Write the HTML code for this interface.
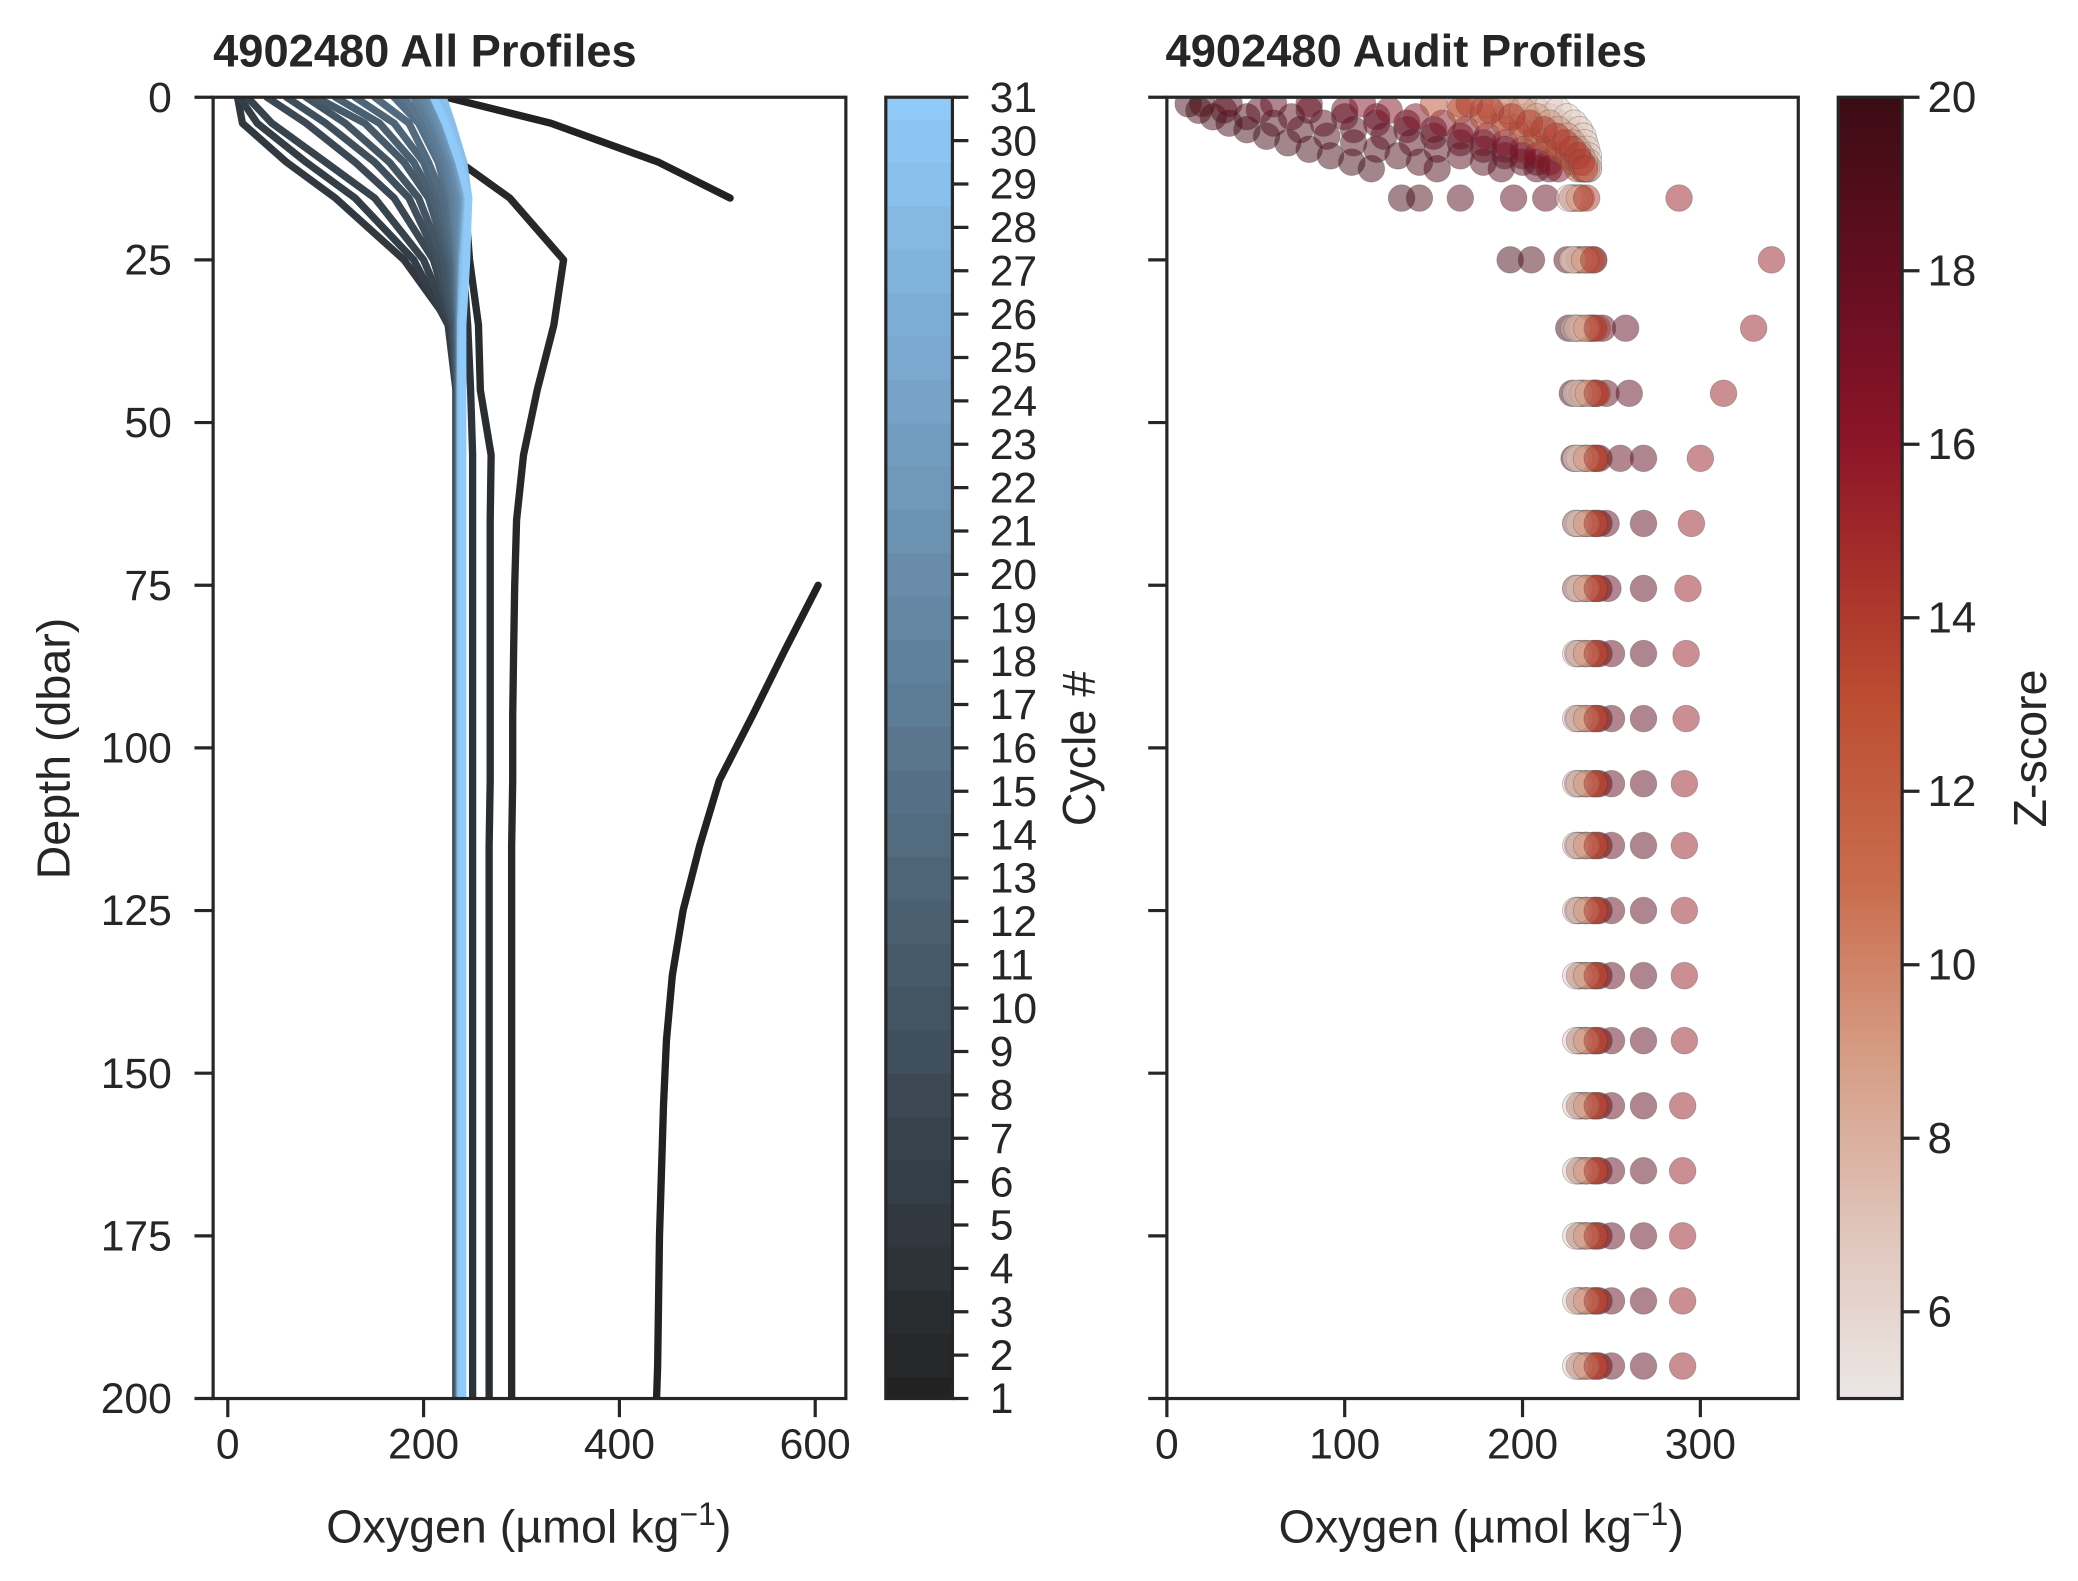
<!DOCTYPE html>
<html><head><meta charset="utf-8"><style>
html,body{margin:0;padding:0;background:#fff;}
svg{display:block;font-family:"Liberation Sans",Arial,sans-serif;}
</style></head><body>
<svg id="chart" width="2078" height="1581" viewBox="0 0 1560 1187" preserveAspectRatio="none" xmlns="http://www.w3.org/2000/svg">
<rect width="1560" height="1187" fill="#fff"/>
<defs><clipPath id="clipL"><rect x="160" y="73" width="475" height="977"/></clipPath>
<clipPath id="clipR"><rect x="876" y="73" width="474" height="977"/></clipPath></defs>
<g id="lines" clip-path="url(#clipL)"></g>
<g id="dots" clip-path="url(#clipR)"></g>
<g id="axes"></g>
</svg>
<script>
// ---- data: left panel (all profiles) ----
const lineDepths=[0,4,10,15.5,25,35,45,55,65,75,85,95,105,115,125,135,145,155,165,175,185,195,200];
const cycle1=[223,330,440,513,null,null,null,null,null,603,569,536,502,482,465,454,448,445,443,441,440,439,438];
const cycle2=[215,225,237,288,343,333,316,302,295,293,292,291,291,290,290,290,290,290,290,290,290,290,290];
const cycle3=[205,215,230,242,247,256,258,269,268,268,268,268,268,267,267,267,267,267,267,267,267,267,267];
const cycle4=[195,205,225,238,240,245,248,250,250,250,250,250,250,250,250,250,250,250,250,250,250,250,250];
// cycles 5-31: values at depths 0,4,10,15.5,25,35 then a deep value for 45-200
const shallow=[
[10,15,60,110,180,228],[12,30,80,130,190,225],[20,45,100,150,200,228],[40,80,130,170,210,230],
[60,100,150,185,215,230],[80,120,165,195,220,232],[90,140,180,205,225,233],[110,155,190,210,228,234],
[130,170,200,215,230,235],[150,185,205,220,232,235],[170,195,215,225,233,236],[180,200,218,228,234,236],
[190,205,222,230,235,236],[195,210,225,232,236,237],[200,212,228,235,237,237],[205,215,230,238,238,237],
[208,218,232,240,238,237],[210,220,233,241,239,238],[212,222,234,242,239,238],[214,224,236,243,240,238],
[215,225,237,244,240,238],[216,226,238,244,240,238],[218,227,239,245,240,238],[219,228,240,245,241,238],
[220,229,241,246,241,238],[211,224,238,246,243,239],[210,222,236,246,244,240]];
const deepO2=[233,233,234,234,234,235,235,235,236,236,236,236,237,237,237,237,237,237,237,238,238,238,238,238,238,239,240];
// ---- data: right panel (audit profiles) ----
const auditDepths=[1,2,3,4,5,6,7,8,9,10,11,15.5,25,35.5,45.5,55.5,65.5,75.5,85.5,95.5,105.5,115,125,135,145,155,165,175,185,195];
const auditZ=[19.5,19,18.5,18.2,18,15.5,16.5,13,12,10,8,6.5,9,14];
const auditO2=[
[12,18,26,35,45,56,68,80,92,104,115,132,193,226,228,229,230,230,231,231,231,231,231,232,232,232,232,232,232,232],
[20,32,45,60,75,90,105,118,130,142,152,142,205,230,233,236,236,236,236,236,236,236,236,236,236,236,236,236,236,236],
[35,52,70,88,105,122,138,152,165,178,188,165,225,238,240,243,243,243,243,243,243,243,243,243,243,243,243,243,243,243],
[60,80,100,118,135,150,165,178,190,200,208,195,232,258,260,268,268,268,268,268,268,268,268,268,268,268,268,268,268,268],
[80,100,118,135,150,165,178,190,200,208,215,213,240,245,247,255,247,248,250,250,250,250,250,250,250,250,250,250,250,250],
[null,null,null,null,null,null,null,null,null,null,null,288,340,330,313,300,295,293,292,292,291,291,291,291,291,290,290,290,290,290],
[110,125,140,155,168,180,190,200,208,215,220,228,235,240,241,241,241,241,241,241,241,241,241,241,241,241,241,241,241,241],
[150,165,178,190,200,208,215,221,226,229,231,232,236,238,240,240,240,240,240,240,240,240,240,240,240,240,240,240,240,240],
[165,178,190,200,208,215,221,226,229,232,234,233,238,240,241,240,240,240,240,240,240,240,240,240,240,240,240,240,240,240],
[180,192,202,210,217,222,226,229,231,233,234,230,232,234,235,235,235,235,235,235,235,235,235,235,235,235,235,235,235,235],
[200,208,215,220,225,228,231,233,235,236,237,228,229,231,232,232,232,232,232,232,232,232,232,232,232,232,232,232,232,232],
[215,220,225,229,232,234,235,236,237,237,237,226,228,229,230,230,230,230,230,230,230,230,230,230,230,230,230,230,230,230],
[190,200,208,215,220,225,228,231,233,235,236,232,235,236,237,236,236,236,236,236,236,236,236,236,236,236,236,236,236,236],
[170,182,194,204,212,219,224,228,231,233,235,236,240,242,242,242,242,242,242,242,242,242,242,242,242,242,242,242,242,242]];
const depthTicks=[0,25,50,75,100,125,150,175,200];
const xTicksL=[0,200,400,600];
const xTicksR=[0,100,200,300];
const zTicks=[6,8,10,12,14,16,18,20];

// ---- scales ----
const NS="http://www.w3.org/2000/svg";
const yD=d=>73+d*(977/200);
const xL=v=>171+v*0.735;
const xR=v=>876+v*1.335;
const cycY=c=>1050-(c-1)*(977/30);
const zY=z=>73+(20-z)*(977/15);
function mk(tag,attrs,parent){const e=document.createElementNS(NS,tag);for(const k in attrs)e.setAttribute(k,attrs[k]);parent.appendChild(e);return e;}
function hex(c){return [parseInt(c.slice(1,3),16),parseInt(c.slice(3,5),16),parseInt(c.slice(5,7),16)];}
function lerpC(a,b,t){const A=hex(a),B=hex(b);return 'rgb('+A.map((v,i)=>Math.round(v+(B[i]-v)*t)).join(',')+')';}
function cycColor(c){return lerpC('#222222','#90caf9',(c-1)/30);}
const zStops=[[5,'#ebe7e5'],[7,'#e0c4b9'],[9,'#d59b83'],[11,'#c96b4c'],[13,'#bd4e32'],[14.5,'#a8302a'],[16,'#8c1527'],[17.5,'#6e0f23'],[20,'#3b0c14']];
function zColor(z){z=Math.max(5,Math.min(20,z));for(let i=0;i<zStops.length-1;i++){const[a,ca]=zStops[i],[b,cb]=zStops[i+1];if(z<=b)return lerpC(ca,cb,(z-a)/(b-a));}return zStops[zStops.length-1][1];}

const svg=document.getElementById('chart');
const linesG=document.getElementById('lines');
const dotsG=document.getElementById('dots');
const axG=document.getElementById('axes');

// ---- left lines ----
const profiles=[cycle1,cycle2,cycle3,cycle4];
shallow.forEach((s,i)=>{const arr=s.slice();for(let k=6;k<lineDepths.length;k++)arr.push(deepO2[i]);profiles.push(arr);});
profiles.forEach((p,i)=>{
  let d='',pen=false;
  p.forEach((v,k)=>{if(v===null){pen=false;return;}d+=(pen?'L':'M')+xL(v).toFixed(1)+' '+yD(lineDepths[k]).toFixed(1);pen=true;});
  const e=mk('path',{d:d,fill:'none',stroke:cycColor(i+1),'stroke-width':5.5,'stroke-linejoin':'round','stroke-linecap':'round'},linesG);
  
  
});

// ---- right scatter ----
auditO2.forEach((p,i)=>{
  p.forEach((v,k)=>{if(v===null)return;
    const c=mk('circle',{cx:xR(v).toFixed(1),cy:yD(auditDepths[k]).toFixed(1),r:10,fill:zColor(auditZ[i]),'fill-opacity':0.5,stroke:'#555','stroke-opacity':0.4,'stroke-width':0.6},dotsG);
    
    
  });
});

// ---- axes ----
const FS=32;
function txt(s,attrs,name){const t=mk('text',Object.assign({fill:'#262626','font-size':FS},attrs),axG);t.textContent=s;return t;}
function line(x1,y1,x2,y2,w){return mk('line',{x1,y1,x2,y2,stroke:'#262626','stroke-width':w||2.4},axG);}
const f1=mk('rect',{x:160,y:73,width:475,height:977,fill:'none',stroke:'#262626','stroke-width':2.4},axG);

const f2=mk('rect',{x:876,y:73,width:474,height:977,fill:'none',stroke:'#262626','stroke-width':2.4},axG);

depthTicks.forEach(d=>{line(146,yD(d),160,yD(d));line(862,yD(d),876,yD(d));
  txt(String(d),{x:129,y:yD(d)+11,'text-anchor':'end'},'y-tick-label');});
xTicksL.forEach(v=>{line(xL(v),1050,xL(v),1064);txt(String(v),{x:xL(v),y:1095,'text-anchor':'middle'},'x-tick-label-left');});
xTicksR.forEach(v=>{line(xR(v),1050,xR(v),1064);txt(String(v),{x:xR(v),y:1095,'text-anchor':'middle'},'x-tick-label-right');});
txt('4902480 All Profiles',{x:160,y:50,'font-weight':'bold','font-size':34},'left-title');
txt('4902480 Audit Profiles',{x:875,y:50,'font-weight':'bold','font-size':34},'right-title');
const xl1=txt('Oxygen (µmol kg',{x:397,y:1158,'text-anchor':'middle','font-size':35},'x-axis-title-left');
const s1=mk('tspan',{dy:-13,'font-size':24},xl1);s1.textContent='−1';const s1b=mk('tspan',{dy:13},xl1);s1b.textContent=')';
const xl2=txt('Oxygen (µmol kg',{x:1112,y:1158,'text-anchor':'middle','font-size':35},'x-axis-title-right');
const s2=mk('tspan',{dy:-13,'font-size':24},xl2);s2.textContent='−1';const s2b=mk('tspan',{dy:13},xl2);s2b.textContent=')';
txt('Depth (dbar)',{x:0,y:0,transform:'translate(52,562) rotate(-90)','text-anchor':'middle','font-size':35},'y-axis-title');
for(let c=1;c<=31;c++){const y0=c===31?73:cycY(c)-977/60, y1=c===1?1050:cycY(c)+977/60;
  const r=mk('rect',{x:665,y:Math.max(73,y0),width:50,height:Math.min(1050,y1)-Math.max(73,y0)+0.5,fill:cycColor(c)},axG);
  
  line(715,cycY(c),727,cycY(c));txt(String(c),{x:743,y:cycY(c)+11},'cycle-colorbar-tick-label');}
const cb1=mk('rect',{x:665,y:73,width:50,height:977,fill:'none',stroke:'#262626','stroke-width':2.4},axG);

txt('Cycle #',{x:0,y:0,transform:'translate(822,562) rotate(-90)','text-anchor':'middle','font-size':35},'cycle-colorbar-title');
const gr=mk('linearGradient',{id:'zg',x1:0,y1:1,x2:0,y2:0},svg.querySelector('defs'));
zStops.forEach(s=>mk('stop',{offset:((s[0]-5)/15).toFixed(3),'stop-color':s[1]},gr));
const zb=mk('rect',{x:1380,y:73,width:48,height:977,fill:'url(#zg)',stroke:'#262626','stroke-width':2.4},axG);

zTicks.forEach(z=>{line(1428,zY(z),1441,zY(z));txt(String(z),{x:1447,y:zY(z)+11,'font-size':33},'zscore-tick-label');});
txt('Z-score',{x:0,y:0,transform:'translate(1536,562) rotate(-90)','text-anchor':'middle','font-size':35},'zscore-colorbar-title');
</script>
</body></html>
